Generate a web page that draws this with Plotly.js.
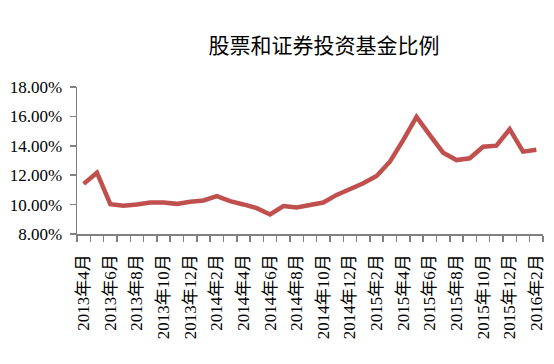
<!DOCTYPE html>
<html>
<head>
<meta charset="utf-8">
<script src="https://cdn.plot.ly/plotly-3.0.1.min.js"></script>
<style>html,body{margin:0;padding:0;background:#fff;}#chart{width:554px;height:364px;}</style>
</head>
<body>
<div id="chart"></div>
<script>
var title = "股票和证券投资基金比例";
var months = ["2013年4月","2013年5月","2013年6月","2013年7月","2013年8月","2013年9月","2013年10月","2013年11月","2013年12月",
  "2014年1月","2014年2月","2014年3月","2014年4月","2014年5月","2014年6月","2014年7月","2014年8月","2014年9月","2014年10月","2014年11月","2014年12月",
  "2015年1月","2015年2月","2015年3月","2015年4月","2015年5月","2015年6月","2015年7月","2015年8月","2015年9月","2015年10月","2015年11月","2015年12月",
  "2016年1月","2016年2月"];
var ratio = [11.41,12.17,10.03,9.92,10.01,10.14,10.14,10.05,10.19,
  10.28,10.57,10.23,10.01,9.76,9.33,9.90,9.80,9.98,10.14,10.66,11.07,
  11.45,11.95,12.92,14.39,15.97,14.73,13.53,13.03,13.15,13.94,14.01,15.13,
  13.60,13.73];
var yTickVals = [8,10,12,14,16,18];
var yTickText = ["8.00%","10.00%","12.00%","14.00%","16.00%","18.00%"];

var idx = months.map(function(_, i){ return i; });
var labelIdx = idx.filter(function(i){ return i % 2 === 0; });
var labelText = labelIdx.map(function(i){ return months[i]; });
var bounds = [];
for (var b = 0; b <= months.length; b++) bounds.push(b - 0.5);

var font = "'Liberation Serif','Noto Sans CJK SC',serif";

Plotly.newPlot('chart', [{
  x: idx, y: ratio, type: 'scatter', mode: 'lines',
  line: {color: '#C0504D', width: 4.5},
  hoverinfo: 'skip'
}], {
  width: 554, height: 364,
  margin: {l: 77, r: 11, t: 87, b: 130, pad: 0},
  paper_bgcolor: '#fff', plot_bgcolor: '#fff',
  showlegend: false,
  title: {text: title, x: 0.585, xanchor: 'center', y: 0.875, yanchor: 'middle',
    font: {family: "'Noto Sans CJK SC',sans-serif", size: 21, color: '#000'}},
  xaxis: {
    type: 'linear', range: [-0.5, months.length - 0.5], fixedrange: true,
    tickmode: 'array', tickvals: labelIdx, ticktext: labelText,
    tickangle: -90, ticks: '', showgrid: false, zeroline: false,
    showline: true, linecolor: '#808080', linewidth: 1.5,
    ticklabelstandoff: 12,
    tickfont: {family: font, size: 17, color: '#000'},
    minor: {tickmode: 'array', tickvals: bounds, ticks: 'outside', ticklen: 6, tickwidth: 1.5, tickcolor: '#808080', showgrid: false}
  },
  yaxis: {
    range: [8, 18], fixedrange: true,
    tickmode: 'array', tickvals: yTickVals, ticktext: yTickText,
    ticks: 'outside', ticklen: 6, tickwidth: 1.5, tickcolor: '#808080',
    showgrid: false, zeroline: false,
    showline: true, linecolor: '#808080', linewidth: 1.5,
    ticklabelstandoff: 4,
    tickfont: {family: font, size: 17, color: '#000'}
  }
}, {staticPlot: true, displayModeBar: false});
</script>
</body>
</html>
